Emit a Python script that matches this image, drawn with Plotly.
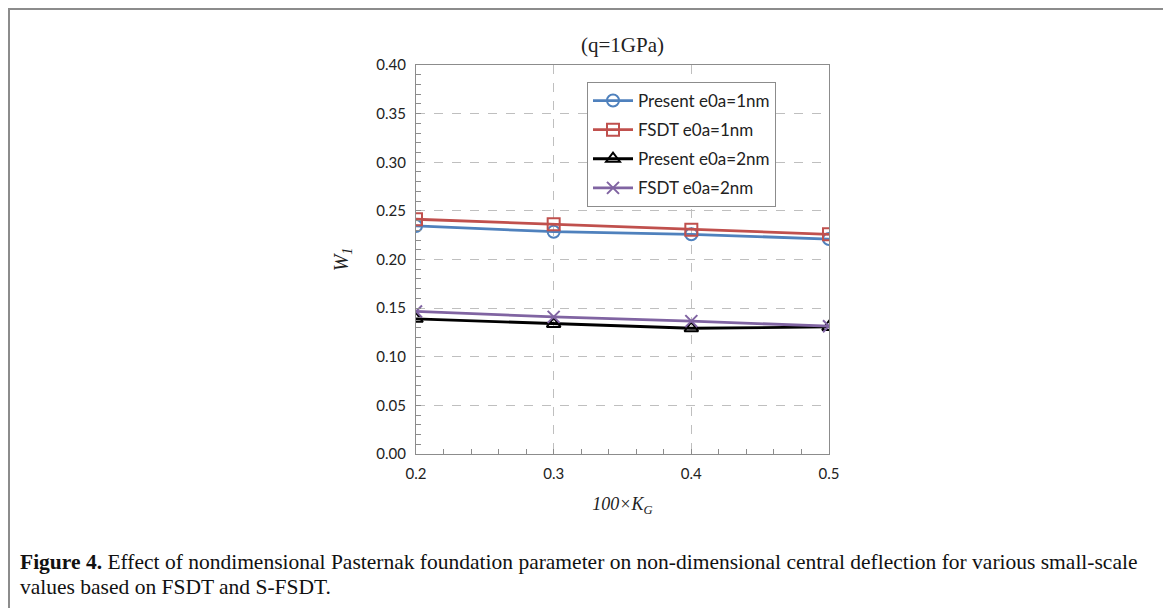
import plotly.graph_objects as go

x_vals = [0.2, 0.3, 0.4, 0.5]
present_1nm = [0.2345, 0.2286, 0.2259, 0.2210]
fsdt_1nm = [0.2414, 0.2362, 0.2307, 0.2259]
present_2nm = [0.1390, 0.1338, 0.1293, 0.1307]
fsdt_2nm = [0.1466, 0.1410, 0.1366, 0.1314]
series_names = ["Present e0a=1nm", "FSDT e0a=1nm", "Present e0a=2nm", "FSDT e0a=2nm"]
x_ticks = [0.2, 0.3, 0.4, 0.5]
x_tick_labels = ["0.2", "0.3", "0.4", "0.5"]
y_ticks = [0.0, 0.05, 0.10, 0.15, 0.20, 0.25, 0.30, 0.35, 0.40]

styles = [
    dict(color="#4F81BD", symbol="circle-open"),
    dict(color="#C0504D", symbol="square-open"),
    dict(color="#000000", symbol="triangle-up-open"),
    dict(color="#8064A2", symbol="x-thin-open"),
]

W, H = 1158, 600
L, T = 408, 57
PW, PH = 413, 389
R = W - L - PW
B = H - T - PH

def px(xf):
    return (xf - L) / PW

def py(yf):
    return (T + PH - yf) / PH

fig = go.Figure()
for i, (name, ys, st) in enumerate(zip(series_names, [present_1nm, fsdt_1nm, present_2nm, fsdt_2nm], styles)):
    fig.add_trace(go.Scatter(
        x=x_vals, y=ys, mode="lines+markers", name=name, legendgroup=f"g{i}",
        line=dict(color=st["color"], width=2.8),
        marker=dict(symbol=st["symbol"], size=12, color=st["color"],
                    line=dict(color=st["color"], width=2)),
    ))

axis_common = dict(
    showline=True, linecolor="#8C8C8C", linewidth=1, mirror=True,
    showgrid=True, gridcolor="#BFBFBF", griddash="dash", gridwidth=1,
    ticks="inside", ticklen=5, tickcolor="#8C8C8C",
    zeroline=False,
    tickfont=dict(family="Lato, Open Sans, sans-serif", size=15, color="#222"),
)

fig.update_xaxes(
    range=[0.2, 0.5], tickvals=x_ticks, ticktext=x_tick_labels,
    minor=dict(dtick=0.02, ticks="inside", ticklen=5, tickcolor="#8C8C8C", showgrid=False),
    title=dict(text="<i>100×K<sub>G</sub></i>",
               font=dict(family="Liberation Serif, Times New Roman, serif", size=18, color="#222"),
               standoff=16),
    ticklabelstandoff=6,
    **axis_common,
)
fig.update_yaxes(
    range=[0, 0.40], tickvals=y_ticks, tickformat=".2f",
    minor=dict(dtick=0.01, ticks="inside", ticklen=5, tickcolor="#8C8C8C", showgrid=False),
    title=dict(text="<i>W<sub>1</sub></i>",
               font=dict(family="Liberation Serif, Times New Roman, serif", size=20, color="#222"),
               standoff=22),
    ticklabelstandoff=6,
    **axis_common,
)

fig.update_layout(
    width=W, height=H,
    margin=dict(l=L, r=R, t=T, b=B),
    paper_bgcolor="white", plot_bgcolor="white",
    title=dict(text="(q=1GPa)", x=(L + PW / 2) / W, xanchor="center", y=1 - 37 / H, yanchor="middle",
               font=dict(family="Liberation Serif, Times New Roman, serif", size=21, color="#222")),
    legend=dict(x=px(579), y=py(74), xanchor="left", yanchor="top",
                bgcolor="white", bordercolor="#8C8C8C", borderwidth=1,
                font=dict(family="Lato, Open Sans, sans-serif", size=17, color="#222"),
                tracegroupgap=4, itemwidth=40),
    showlegend=True,
)

# outer frame of the figure
fig.add_shape(type="rect", xref="paper", yref="paper",
              x0=px(1), x1=px(1157), y0=py(640), y1=py(1),
              line=dict(color="#8C8C8C", width=2), layer="below")

cap_font = dict(family="Liberation Serif, Times New Roman, serif", size=21.5, color="#111")
fig.add_annotation(
    xref="paper", yref="paper", x=px(10), y=py(554), xanchor="left", yanchor="middle",
    align="left", showarrow=False,
    text=("<b>Figure 4.</b> Effect of nondimensional Pasternak foundation parameter on non-dimensional "
          "central deflection for various small-scale"),
    font=cap_font,
)
fig.add_annotation(
    xref="paper", yref="paper", x=px(10), y=py(579), xanchor="left", yanchor="middle",
    align="left", showarrow=False,
    text="values based on FSDT and S-FSDT.",
    font=cap_font,
)

fig.write_html("out.html")
